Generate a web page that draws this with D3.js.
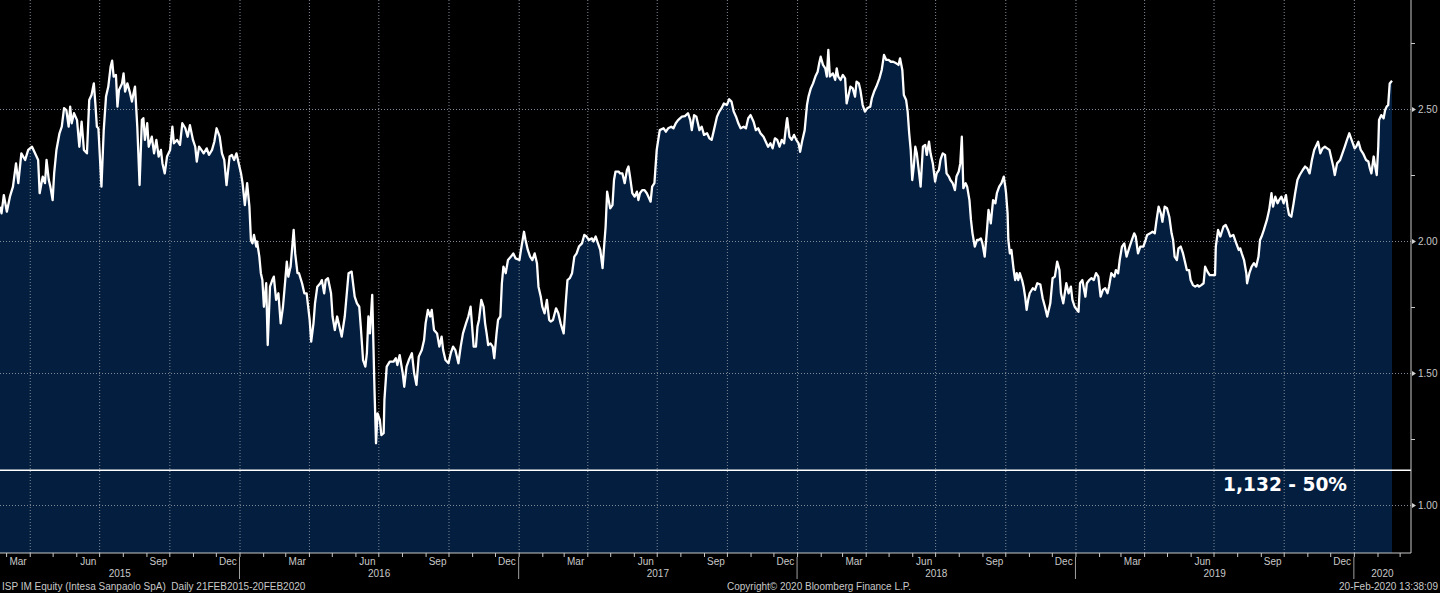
<!DOCTYPE html>
<html>
<head>
<meta charset="utf-8">
<script src="https://cdn.jsdelivr.net/npm/d3@7"></script>
<style>
  html, body { margin: 0; padding: 0; background: #000; }
  svg { display: block; }
</style>
</head>
<body>
<svg id="chart" width="1440" height="593"></svg>
<script>
// ---------------- DATA (ISO ordinal dates: [day-of-year, close]) ----------------
const y2015 = [[52,2.130],[54,2.105],[57,2.174],[61,2.111],[65,2.168],[69,2.206],[73,2.294],[76,2.219],[80,2.332],[85,2.307],[89,2.345],[94,2.357],[99,2.326],[102,2.307],[104,2.181],[108,2.244],[111,2.219],[113,2.307],[116,2.231],[118,2.206],[121,2.155],[123,2.256],[126,2.345],[130,2.408],[133,2.433],[136,2.503],[139,2.496],[142,2.433],[144,2.509],[146,2.446],[149,2.484],[153,2.458],[156,2.357],[159,2.452],[162,2.345],[166,2.332],[169,2.534],[172,2.553],[175,2.597],[177,2.521],[179,2.433],[181,2.427],[185,2.206],[188,2.420],[191,2.547],[194,2.585],[197,2.660],[199,2.683],[201,2.623],[204,2.629],[206,2.509],[208,2.572],[212,2.597],[214,2.635],[216,2.566],[219,2.597],[222,2.566],[225,2.528],[227,2.559],[229,2.585],[232,2.433],[235,2.212],[238,2.458],[240,2.465],[242,2.383],[245,2.446],[247,2.357],[251,2.395],[254,2.332],[257,2.383],[260,2.320],[263,2.345],[265,2.294],[268,2.256],[271,2.320],[275,2.345],[278,2.433],[280,2.370],[284,2.383],[288,2.364],[291,2.446],[295,2.427],[298,2.395],[301,2.439],[305,2.383],[308,2.357],[310,2.301],[313,2.357],[316,2.345],[319,2.332],[323,2.351],[326,2.326],[330,2.345],[333,2.376],[336,2.427],[340,2.395],[343,2.332],[346,2.307],[349,2.212],[353,2.320],[356,2.326],[359,2.307],[362,2.332],[365,2.294]];
const y2016 = [[3,2.256],[5,2.219],[8,2.136],[11,2.219],[14,2.130],[16,2.004],[18,1.991],[20,2.023],[23,1.979],[24,1.998],[27,1.941],[29,1.878],[31,1.852],[33,1.751],[36,1.840],[38,1.606],[41,1.827],[44,1.852],[46,1.865],[49,1.777],[52,1.802],[55,1.688],[58,1.751],[61,1.852],[63,1.922],[65,1.865],[68,1.903],[72,2.042],[74,1.953],[77,1.878],[79,1.878],[83,1.840],[86,1.802],[89,1.802],[93,1.701],[95,1.619],[98,1.688],[100,1.764],[103,1.827],[107,1.840],[109,1.852],[112,1.802],[114,1.852],[117,1.859],[121,1.802],[123,1.714],[126,1.663],[129,1.714],[132,1.676],[135,1.638],[139,1.714],[144,1.878],[148,1.884],[152,1.789],[155,1.764],[158,1.751],[160,1.676],[163,1.549],[166,1.524],[168,1.575],[170,1.714],[172,1.650],[175,1.796],[178,1.436],[180,1.234],[182,1.347],[185,1.322],[187,1.265],[190,1.272],[191,1.398],[194,1.524],[198,1.543],[203,1.543],[206,1.556],[208,1.530],[211,1.568],[215,1.499],[217,1.448],[220,1.524],[223,1.549],[227,1.575],[230,1.499],[233,1.455],[236,1.562],[240,1.587],[243,1.625],[245,1.688],[248,1.739],[251,1.714],[253,1.739],[256,1.663],[260,1.650],[263,1.600],[266,1.638],[268,1.587],[271,1.549],[275,1.537],[278,1.575],[281,1.600],[284,1.587],[288,1.537],[291,1.600],[294,1.650],[298,1.688],[301,1.714],[304,1.751],[305,1.714],[308,1.600],[311,1.600],[313,1.676],[315,1.701],[318,1.777],[321,1.751],[323,1.688],[325,1.650],[327,1.606],[330,1.612],[333,1.600],[335,1.556],[338,1.650],[340,1.701],[343,1.714],[345,1.840],[347,1.903],[350,1.878],[353,1.928],[357,1.941],[360,1.953],[363,1.934]];
const y2017 = [[2,1.928],[4,1.966],[7,2.017],[8,2.035],[10,2.004],[13,1.966],[16,1.941],[19,1.928],[22,1.953],[25,1.916],[27,1.827],[30,1.789],[32,1.751],[35,1.726],[38,1.777],[41,1.701],[43,1.695],[46,1.701],[50,1.745],[53,1.726],[56,1.688],[60,1.650],[63,1.777],[65,1.852],[68,1.859],[71,1.878],[74,1.941],[77,1.953],[80,1.979],[84,1.991],[87,2.023],[90,2.017],[93,2.004],[97,2.010],[99,1.998],[102,2.017],[105,1.991],[108,1.966],[111,1.897],[113,1.979],[115,2.054],[117,2.187],[119,2.155],[121,2.124],[124,2.136],[126,2.231],[128,2.263],[132,2.263],[134,2.256],[137,2.256],[140,2.219],[143,2.269],[145,2.282],[147,2.244],[150,2.181],[153,2.168],[156,2.187],[158,2.155],[160,2.181],[163,2.193],[166,2.193],[169,2.181],[172,2.162],[174,2.149],[176,2.206],[179,2.219],[182,2.345],[184,2.383],[186,2.420],[191,2.427],[194,2.414],[197,2.427],[201,2.433],[204,2.427],[207,2.446],[210,2.458],[215,2.471],[219,2.473],[223,2.484],[226,2.458],[228,2.420],[231,2.477],[234,2.471],[238,2.420],[241,2.433],[244,2.402],[248,2.408],[251,2.389],[254,2.383],[257,2.420],[261,2.471],[264,2.490],[267,2.503],[270,2.521],[274,2.515],[277,2.537],[280,2.528],[283,2.490],[286,2.471],[289,2.446],[292,2.427],[296,2.433],[299,2.427],[302,2.465],[305,2.477],[309,2.452],[312,2.420],[315,2.427],[318,2.408],[322,2.395],[325,2.376],[328,2.357],[331,2.370],[334,2.351],[337,2.389],[340,2.383],[343,2.357],[346,2.383],[349,2.370],[352,2.446],[353,2.465],[356,2.395],[359,2.383],[362,2.402],[365,2.383]];
const y2018 = [[3,2.370],[5,2.338],[8,2.383],[11,2.420],[14,2.515],[16,2.547],[19,2.578],[22,2.597],[25,2.623],[28,2.641],[30,2.673],[32,2.698],[35,2.667],[38,2.654],[40,2.623],[42,2.724],[44,2.623],[48,2.635],[51,2.610],[53,2.654],[55,2.623],[58,2.610],[61,2.629],[64,2.616],[66,2.521],[69,2.559],[71,2.585],[74,2.578],[77,2.547],[79,2.604],[82,2.597],[84,2.572],[87,2.515],[90,2.490],[93,2.503],[97,2.509],[99,2.540],[102,2.566],[105,2.585],[109,2.616],[112,2.648],[115,2.705],[118,2.686],[121,2.686],[124,2.679],[127,2.679],[131,2.673],[134,2.667],[136,2.692],[139,2.648],[141,2.553],[144,2.534],[146,2.490],[148,2.408],[150,2.345],[152,2.231],[154,2.282],[156,2.357],[158,2.332],[160,2.282],[163,2.206],[166,2.357],[169,2.364],[171,2.326],[174,2.376],[176,2.332],[179,2.294],[182,2.225],[184,2.256],[187,2.269],[189,2.307],[192,2.332],[195,2.326],[197,2.256],[200,2.244],[202,2.231],[205,2.219],[208,2.193],[210,2.244],[213,2.263],[215,2.294],[217,2.395],[219,2.200],[222,2.219],[224,2.206],[227,2.155],[229,2.080],[231,2.029],[234,1.979],[237,2.004],[239,2.004],[242,2.010],[244,1.991],[247,1.941],[250,2.042],[252,2.118],[255,2.067],[258,2.155],[261,2.143],[263,2.181],[266,2.206],[269,2.219],[272,2.244],[274,2.206],[275,2.181],[277,2.105],[278,2.004],[280,1.953],[282,1.966],[285,1.890],[287,1.852],[289,1.878],[291,1.852],[293,1.878],[296,1.852],[298,1.827],[300,1.789],[302,1.739],[304,1.777],[306,1.802],[310,1.821],[313,1.815],[316,1.840],[320,1.835],[323,1.783],[326,1.751],[329,1.714],[333,1.764],[336,1.859],[339,1.865],[342,1.922],[345,1.890],[347,1.802],[350,1.764],[354,1.840],[357,1.802],[360,1.827],[362,1.777],[365,1.751]];
const y2019 = [[3,1.739],[5,1.732],[7,1.840],[10,1.852],[14,1.789],[16,1.840],[19,1.852],[22,1.859],[25,1.852],[28,1.878],[31,1.865],[34,1.789],[37,1.815],[40,1.821],[43,1.802],[45,1.827],[48,1.878],[52,1.865],[54,1.890],[57,1.878],[59,1.928],[62,1.979],[65,1.991],[68,1.941],[72,1.979],[75,2.004],[78,2.029],[80,2.017],[83,1.953],[86,1.979],[90,1.979],[93,2.004],[95,2.023],[99,2.029],[102,2.035],[105,2.029],[107,2.073],[110,2.130],[113,2.105],[115,2.073],[118,2.130],[121,2.124],[124,2.092],[127,2.029],[129,2.004],[131,1.941],[134,1.928],[136,1.972],[139,1.979],[142,1.953],[145,1.916],[147,1.890],[150,1.890],[152,1.852],[155,1.833],[158,1.827],[161,1.833],[163,1.827],[166,1.833],[169,1.840],[171,1.903],[174,1.884],[177,1.871],[181,1.871],[184,1.871],[185,1.979],[188,2.042],[191,2.017],[195,2.054],[198,2.061],[201,2.042],[204,2.017],[208,2.023],[211,1.998],[215,1.966],[217,1.972],[219,1.953],[222,1.928],[225,1.878],[226,1.840],[229,1.878],[232,1.903],[235,1.916],[238,1.903],[241,1.941],[243,2.004],[245,2.017],[248,2.042],[252,2.080],[255,2.118],[258,2.181],[260,2.130],[263,2.168],[266,2.143],[268,2.155],[271,2.168],[274,2.143],[277,2.174],[279,2.130],[281,2.099],[284,2.092],[287,2.143],[289,2.181],[292,2.231],[295,2.250],[299,2.269],[302,2.282],[305,2.275],[308,2.256],[311,2.307],[314,2.345],[316,2.357],[319,2.376],[322,2.332],[325,2.351],[328,2.357],[331,2.351],[334,2.345],[337,2.307],[339,2.282],[341,2.250],[344,2.294],[348,2.307],[351,2.332],[354,2.357],[357,2.383],[360,2.408],[363,2.383]];
const y2020 = [[2,2.351],[4,2.357],[7,2.376],[10,2.345],[13,2.332],[17,2.307],[20,2.301],[22,2.275],[24,2.256],[27,2.320],[29,2.282],[31,2.250],[33,2.357],[34,2.458],[37,2.477],[40,2.465],[42,2.496],[44,2.509],[46,2.515],[48,2.597],[51,2.607]];

const seriesYears = [2015, 2016, 2017, 2018, 2019, 2020];
const seriesByYear = [y2015, y2016, y2017, y2018, y2019, y2020];

const yMajorTicks = [1.00, 1.50, 2.00, 2.50];
const yMinorTicks = [1.25, 1.75, 2.25, 2.75];
const monthLabels = ["Mar", "Jun", "Sep", "Dec"];
const yearLabels = ["2015", "2016", "2017", "2018", "2019", "2020"];
const levelValue = 1.132;
const levelLabel = "1,132 - 50%";
const footerLeft = "ISP IM Equity (Intesa Sanpaolo SpA)  Daily 21FEB2015-20FEB2020";
const footerMid = "Copyright\u00A9 2020 Bloomberg Finance L.P.";
const footerRight = "20-Feb-2020 13:38:09";
const rangeStart = "2015-02-21";
const rangeEnd = "2020-02-20";

// ---------------- LAYOUT ----------------
const W = 1440, H = 593;
const plotRight = 1411;   // right axis line
const plotBottom = 553;   // bottom axis line
const dataRight = 1392;   // last observation
const yDomain = [0.8182, 2.9129];

const parseISO = d3.timeParse("%Y-%m-%d");
const data = [];
seriesByYear.forEach((arr, i) => {
  arr.forEach(([doy, v]) => data.push({ date: new Date(seriesYears[i], 0, doy), value: v }));
});

const svg = d3.select("#chart");
svg.append("rect").attr("width", W).attr("height", H).attr("fill", "#000");

const x = d3.scaleTime().domain([parseISO(rangeStart), parseISO(rangeEnd)]).range([0, dataRight]);
const y = d3.scaleLinear().domain(yDomain).range([plotBottom, 0]);
const axisEndDate = x.invert(plotRight);

const FONT = "'Liberation Sans', Arial, sans-serif";
const TXT = "#c8c8c8";
const GRID = "#808a96";

// area
const area = d3.area().x(d => x(d.date)).y0(plotBottom).y1(d => y(d.value)).curve(d3.curveLinear);
svg.append("path").datum(data).attr("d", area).attr("fill", "#041e3f");

// vertical quarter gridlines
const quarterDates = d3.timeMonth.every(3).range(x.domain()[0], axisEndDate);
svg.append("g")
  .attr("transform", `translate(0,${plotBottom})`)
  .call(d3.axisBottom(x).tickValues(quarterDates).tickSize(-plotBottom).tickFormat(""))
  .call(g => g.select(".domain").remove())
  .call(g => g.selectAll("line").attr("stroke", GRID).attr("stroke-dasharray", "1,2").attr("stroke-width", 1));

// horizontal gridlines
svg.append("g")
  .attr("transform", `translate(${plotRight},0)`)
  .call(d3.axisRight(y).tickValues(yMajorTicks).tickSize(-plotRight).tickFormat(""))
  .call(g => g.select(".domain").remove())
  .call(g => g.selectAll("line").attr("stroke", GRID).attr("stroke-dasharray", "1,2").attr("stroke-width", 1));

// price line
const line = d3.line().x(d => x(d.date)).y(d => y(d.value));
svg.append("path").datum(data).attr("d", line)
  .attr("fill", "none").attr("stroke", "#ffffff").attr("stroke-width", 2.3)
  .attr("stroke-linejoin", "round");

// level line + label
svg.append("line")
  .attr("x1", 0).attr("x2", plotRight)
  .attr("y1", y(levelValue)).attr("y2", y(levelValue))
  .attr("stroke", "#ffffff").attr("stroke-width", 1.5);
svg.append("text")
  .attr("x", 1347).attr("y", y(levelValue) + 21)
  .attr("text-anchor", "end")
  .attr("font-family", "'DejaVu Sans', Verdana, sans-serif")
  .attr("font-weight", "bold").attr("font-size", 18.6)
  .attr("fill", "#ffffff")
  .text(levelLabel);

// right axis
const yAxisG = svg.append("g").attr("transform", `translate(${plotRight},0)`);
yAxisG.append("line").attr("x1", 0).attr("x2", 0).attr("y1", 0).attr("y2", plotBottom)
  .attr("stroke", "#c8c8c8").attr("stroke-width", 1);
yAxisG.append("g")
  .call(d3.axisRight(y).tickValues(yMinorTicks).tickSize(4).tickFormat(""))
  .call(g => g.select(".domain").remove())
  .call(g => g.selectAll("line").attr("stroke", "#c8c8c8"));
const yLab = yAxisG.append("g")
  .call(d3.axisRight(y).tickValues(yMajorTicks).tickSize(0).tickPadding(7).tickFormat(d3.format(".2f")))
  .call(g => g.select(".domain").remove());
yLab.selectAll("text").attr("fill", TXT).attr("font-family", FONT).attr("font-size", 10);
yLab.selectAll(".tick").append("path").attr("d", "M1,-2.5L5,0L1,2.5Z").attr("fill", "#d0d0d0");

// bottom axis line
svg.append("line").attr("x1", 0).attr("x2", plotRight).attr("y1", plotBottom).attr("y2", plotBottom)
  .attr("stroke", "#c8c8c8").attr("stroke-width", 1);
// monthly ticks
svg.append("g")
  .attr("transform", `translate(0,${plotBottom})`)
  .call(d3.axisBottom(x).tickValues(d3.timeMonth.range(x.domain()[0], axisEndDate)).tickSize(4).tickFormat(""))
  .call(g => g.select(".domain").remove())
  .call(g => g.selectAll("line").attr("stroke", "#c8c8c8"));

// month labels (mid-month), only within the data range
const fmtMonth = d3.timeFormat("%b");
const midMonths = d3.timeMonth.range(d3.timeMonth.floor(x.domain()[0]), x.domain()[1])
  .filter(d => monthLabels.includes(fmtMonth(d)))
  .map(d => new Date(d.getFullYear(), d.getMonth(), 16));
const mAx = svg.append("g")
  .attr("transform", `translate(0,${plotBottom})`)
  .call(d3.axisBottom(x).tickValues(midMonths).tickSize(0).tickFormat(fmtMonth))
  .call(g => g.select(".domain").remove());
mAx.selectAll("text").attr("y", 12).attr("dy", null)
  .attr("fill", TXT).attr("font-family", FONT).attr("font-size", 10);

// year separators and labels
const yearStarts = d3.timeYear.range(x.domain()[0], axisEndDate);
svg.append("g").selectAll("line").data(yearStarts).join("line")
  .attr("x1", d => x(d)).attr("x2", d => x(d))
  .attr("y1", 557).attr("y2", 579)
  .attr("stroke", "#a0a0a0").attr("stroke-width", 1);
svg.append("g").selectAll("text").data(yearLabels).join("text")
  .attr("x", yl => {
    const yr = +yl;
    const s = Math.max(0, x(new Date(yr, 0, 1)));
    const e = Math.min(plotRight, x(new Date(yr + 1, 0, 1)));
    return (s + e) / 2;
  })
  .attr("y", 577)
  .attr("text-anchor", "middle")
  .attr("fill", TXT).attr("font-family", FONT).attr("font-size", 10)
  .text(d => d);

// footer
const foot = svg.append("g").attr("font-family", FONT).attr("font-size", 10).attr("fill", TXT);
foot.append("text").attr("x", 2).attr("y", 590).text(footerLeft).style("white-space", "pre");
foot.append("text").attr("x", 727).attr("y", 590).text(footerMid);
foot.append("text").attr("x", 1438).attr("y", 590).attr("text-anchor", "end").text(footerRight);
</script>
</body>
</html>
